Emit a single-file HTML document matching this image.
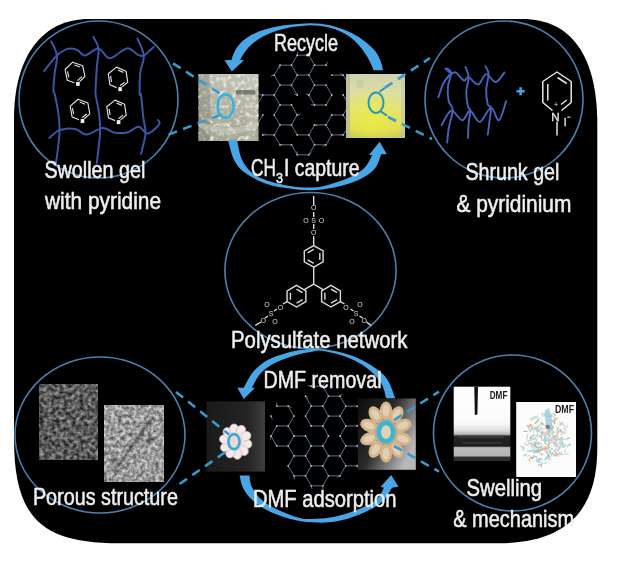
<!DOCTYPE html>
<html><head><meta charset="utf-8">
<style>
html,body{margin:0;padding:0;background:#fff;width:618px;height:565px;overflow:hidden}
svg{display:block;will-change:transform;filter:blur(0.4px)}
text{font-family:"Liberation Sans",sans-serif}
.t{fill:#eeeeee;stroke:#eeeeee;stroke-width:0.55}
</style></head><body>
<svg width="618" height="565" viewBox="0 0 618 565">
<defs>
 <linearGradient id="gBeaker" x1="0" y1="0" x2="0" y2="1">
  <stop offset="0" stop-color="#c0c2b6"/><stop offset="0.5" stop-color="#b2b2a4"/><stop offset="1" stop-color="#a6a696"/>
 </linearGradient>
 <linearGradient id="gYellow" x1="0" y1="0" x2="0" y2="1">
  <stop offset="0" stop-color="#cfd2b0"/><stop offset="0.3" stop-color="#dcdea0"/><stop offset="0.55" stop-color="#e2e478"/><stop offset="0.85" stop-color="#e0e050"/><stop offset="1" stop-color="#c4c470"/>
 </linearGradient>
 <radialGradient id="gYel2" cx="0.45" cy="0.7" r="0.5">
  <stop offset="0" stop-color="#ecec40" stop-opacity="0.8"/><stop offset="1" stop-color="#ecec40" stop-opacity="0"/>
 </radialGradient>
 <linearGradient id="gFlowR" x1="0" y1="0" x2="1" y2="0.6">
  <stop offset="0" stop-color="#0c0c0c"/><stop offset="0.5" stop-color="#2a2a2a"/><stop offset="0.8" stop-color="#808080"/><stop offset="1" stop-color="#b8b8b8"/>
 </linearGradient>
 <linearGradient id="gFlowL" x1="0" y1="0" x2="1" y2="0">
  <stop offset="0" stop-color="#1a1a1a"/><stop offset="0.7" stop-color="#242424"/><stop offset="1" stop-color="#3e3e3e"/>
 </linearGradient>
 <linearGradient id="gCA" x1="0" y1="0" x2="0" y2="1">
  <stop offset="0" stop-color="#ffffff"/><stop offset="0.48" stop-color="#fafafa"/><stop offset="0.58" stop-color="#e2e2e2"/>
  <stop offset="0.64" stop-color="#b8b8b8"/><stop offset="0.665" stop-color="#262626"/><stop offset="0.8" stop-color="#1c1c1c"/>
  <stop offset="0.82" stop-color="#bcbcbc"/><stop offset="0.93" stop-color="#b4b4b4"/><stop offset="0.95" stop-color="#303030"/><stop offset="1" stop-color="#2c2c2c"/>
 </linearGradient>
 <filter id="sem1" color-interpolation-filters="sRGB" filterUnits="userSpaceOnUse" x="39.7" y="384.5" width="57.5" height="75.5">
  <feTurbulence type="fractalNoise" baseFrequency="0.25" numOctaves="4" seed="11"/>
  <feColorMatrix type="matrix" values="0.85 0 0 0 -0.07  0.85 0 0 0 -0.07  0.85 0 0 0 -0.07  0 0 0 0 1"/><feGaussianBlur stdDeviation="0.45"/>
 </filter>
 <filter id="sem2" color-interpolation-filters="sRGB" filterUnits="userSpaceOnUse" x="104.3" y="405.5" width="59.2" height="76.2">
  <feTurbulence type="fractalNoise" baseFrequency="0.27" numOctaves="4" seed="5"/>
  <feColorMatrix type="matrix" values="0.85 0 0 0 0.18  0.85 0 0 0 0.18  0.85 0 0 0 0.18  0 0 0 0 1"/><feGaussianBlur stdDeviation="0.45"/>
 </filter>
 <filter id="soft" x="-20%" y="-20%" width="140%" height="140%"><feGaussianBlur stdDeviation="0.8"/></filter>
 <filter id="beak" color-interpolation-filters="sRGB" filterUnits="userSpaceOnUse" x="198.5" y="74" width="60" height="67">
  <feTurbulence type="fractalNoise" baseFrequency="0.22" numOctaves="2" seed="8"/>
  <feColorMatrix type="matrix" values="0 0 0 0 1  0 0 0 0 1  0 0 0 0 0.95  3 0 0 0 -1.45"/>
 </filter>
 <filter id="noise1" x="0" y="0" width="1" height="1">
  <feTurbulence type="fractalNoise" baseFrequency="0.35" numOctaves="2" seed="4" result="n"/>
  <feColorMatrix type="matrix" values="0 0 0 0 0  0 0 0 0 0  0 0 0 0 0  1.6 0 0 0 -0.3" in="n" result="a"/>
  <feComposite operator="in" in="SourceGraphic" in2="a"/>
 </filter>
</defs>
<path d="M14,119.0 C14,56.5 42.1,19 89.0,19 L522.3,19 C571.0,19 597.3,55.8 597.3,124.0 L597.3,448.3 C597.3,512.4 564.8,543.3 497.3,543.3 L119.0,543.3 C40.2,543.3 14,517.0 14,438.3 Z" fill="#000"/>

<g fill="none" stroke="#4a80ac" stroke-width="1.6">
 <ellipse cx="98.5" cy="99.5" rx="79.5" ry="78.5"/>
 <ellipse cx="504" cy="99.5" rx="79" ry="78.5"/>
 <ellipse cx="310.5" cy="270.5" rx="85.6" ry="78"/>
 <ellipse cx="100" cy="435" rx="85" ry="78"/>
 <ellipse cx="512.5" cy="433" rx="79" ry="78"/>
</g>
<g fill="none" stroke="#3955a5" stroke-width="2.0" stroke-linecap="round" stroke-linejoin="round">
<path d="M44.2,71.0 C46.3,68.4 53.1,59.1 56.9,55.5 C60.7,51.9 63.5,50.1 66.8,49.1 C70.1,48.1 73.6,48.7 76.7,49.8 C79.8,50.9 81.6,55.7 85.2,55.5 C88.8,55.3 94.4,47.9 98.5,48.4 C102.6,48.9 105.1,58.3 109.8,58.3 C114.5,58.3 122.1,49.0 126.8,48.4 C131.5,47.8 135.3,53.6 138.1,54.8 C140.9,56.0 141.2,56.8 143.8,55.5 C146.4,54.2 152.0,48.4 153.7,47.0"/>
<path d="M49.3,138.0 C51.0,136.7 55.2,131.6 59.5,130.1 C63.8,128.6 70.8,128.2 75.3,129.0 C79.8,129.8 82.1,134.8 86.6,134.6 C91.1,134.4 98.0,128.3 102.5,127.9 C107.0,127.5 109.6,131.7 113.8,132.4 C118.0,133.2 123.2,133.3 127.4,132.4 C131.6,131.5 135.3,126.5 138.7,126.7 C142.1,126.9 144.4,133.9 147.8,133.5 C151.2,133.1 157.4,126.8 159.1,124.5 C160.8,122.2 158.2,120.7 158.0,119.9"/>
<path d="M51.2,41.3 C52.2,43.7 56.3,50.3 56.9,55.5 C57.5,60.7 55.4,66.8 54.8,72.5 C54.2,78.2 53.4,85.8 53.4,89.5 C53.4,93.2 54.1,91.1 54.9,95.0 C55.7,98.9 57.5,106.6 58.3,113.0 C59.1,119.4 59.9,125.2 59.5,133.5 C59.1,141.8 56.6,158.1 56.0,163.0"/>
<path d="M93.5,37.0 C94.3,38.9 97.9,43.7 98.5,48.4 C99.1,53.1 97.5,59.0 97.0,65.4 C96.5,71.8 95.9,81.7 95.7,86.6 C95.5,91.5 95.2,90.6 95.7,95.0 C96.2,99.4 98.3,106.6 99.0,113.0 C99.7,119.4 100.4,125.2 100.0,133.5 C99.6,141.8 97.3,158.1 96.8,163.0"/>
<path d="M137.4,38.5 C138.5,41.3 143.3,49.8 143.8,55.5 C144.3,61.2 141.0,66.1 140.3,72.5 C139.6,78.9 139.5,90.0 139.6,93.7 C139.7,97.5 140.4,91.0 141.0,95.0 C141.6,99.0 142.6,111.3 143.3,117.7 C144.1,124.1 145.9,127.5 145.5,133.5 C145.1,139.5 141.8,150.5 141.0,153.9"/>
</g>
<g fill="none" stroke="#e2e2e2" stroke-width="1.15" stroke-linejoin="round">
<polyline points="79.6,81.6 84.9,76.5 82.7,65.7 72.7,62.2 65.1,69.5 67.3,80.3 74.3,82.7"/>
<path d="M74.4,65.0L80.0,67.0M68.8,77.4L67.5,71.3M81.9,76.6L77.5,80.7"/>
<polyline points="122.0,86.9 127.7,82.2 126.1,71.3 116.5,67.1 108.3,73.8 109.9,84.7 116.6,87.6"/>
<path d="M117.9,70.0L123.4,72.4M111.5,82.0L110.6,75.8M124.6,82.1L120.0,85.8"/>
<polyline points="84.3,118.7 89.8,113.9 87.9,103.0 78.1,99.2 70.2,106.1 72.1,117.0 79.0,119.7"/>
<path d="M79.7,102.0L85.2,104.2M73.6,114.2L72.5,108.1M86.7,113.8L82.3,117.8"/>
<polyline points="120.5,119.9 126.2,115.2 124.6,104.3 115.0,100.1 106.8,106.8 108.4,117.7 115.1,120.6"/>
<path d="M116.4,103.0L121.9,105.4M110.0,115.0L109.1,108.8M123.1,115.1L118.5,118.8"/>
</g>
<g fill="#eeeeee">
<rect x="76.1" y="81.9" width="3.6" height="4" />
<rect x="118.3" y="87.1" width="3.6" height="4" />
<rect x="80.7" y="119.0" width="3.6" height="4" />
<rect x="116.8" y="120.1" width="3.6" height="4" />
</g>
<g fill="none" stroke="#4564bb" stroke-width="1.9" stroke-linecap="round" stroke-linejoin="round">
<path d="M445.5,68.5 C446.4,69.3 449.4,72.6 451.1,73.3 C452.8,74.0 453.8,71.3 455.9,72.5 C458.0,73.7 461.8,79.7 463.9,80.5 C466.0,81.3 466.3,76.6 468.7,77.3 C471.1,78.0 475.3,85.0 478.2,84.5 C481.1,84.0 483.3,74.5 486.2,74.1 C489.1,73.7 492.6,82.4 495.7,82.1 C498.8,81.8 503.0,74.1 504.5,72.5"/>
<path d="M441.6,125.1 C442.7,123.2 446.0,116.4 447.9,114.0 C449.8,111.6 450.3,109.8 452.7,110.8 C455.1,111.8 459.4,120.3 462.3,120.3 C465.2,120.3 467.3,110.5 470.2,110.8 C473.1,111.1 476.3,122.4 479.8,121.9 C483.3,121.4 487.8,107.9 491.0,107.6 C494.2,107.3 496.4,121.4 498.9,120.3 C501.4,119.2 504.9,104.4 506.1,101.2"/>
<path d="M447.1,68.5 C447.8,69.3 451.0,70.2 451.1,73.3 C451.2,76.4 448.3,82.2 447.9,86.9 C447.5,91.6 447.9,97.4 448.7,101.2 C449.5,105.0 452.7,105.5 452.7,110.0 C452.7,114.5 449.6,122.9 448.7,128.3 C447.8,133.7 447.4,140.2 447.1,142.6"/>
<path d="M438.4,97.2 C439.2,95.0 441.3,87.4 443.2,83.7 C445.1,80.0 448.4,76.4 449.5,74.9"/>
<path d="M465.5,67.0 C466.0,68.7 468.6,73.2 468.7,77.3 C468.8,81.4 466.4,86.9 466.3,91.7 C466.2,96.5 467.2,102.8 467.9,106.0 C468.5,109.2 470.1,107.9 470.2,110.8 C470.3,113.7 469.1,119.0 468.7,123.5 C468.3,128.0 468.0,135.5 467.9,137.9"/>
<path d="M485.4,66.2 C485.9,67.5 488.5,70.1 488.6,74.1 C488.7,78.1 486.3,85.0 486.2,90.1 C486.1,95.1 487.0,101.5 487.8,104.4 C488.6,107.3 490.7,104.7 491.0,107.6 C491.3,110.5 489.9,117.4 489.4,121.9 C488.9,126.4 488.1,132.6 487.8,134.7"/>
</g>
<path d="M516.6,91.2 h8 M520.6,87.2 v8" stroke="#3ea4e4" stroke-width="2.6"/>
<g fill="none" stroke="#e6e6e6" stroke-width="1.5" stroke-linejoin="round">
<polyline points="552.5,110.5 542.8,102.5 542.8,81.5 557,72 571.2,81.5 571.2,102.5 561.5,110.5"/>
<path d="M547.8,84 V100.5 M557.5,77.5 L566.8,83.5 M566.8,100 L561,104.5 M557,121.5 V135.5"/>
</g>
<text x="551.3" y="120.5" font-size="11.5" fill="#e6e6e6" stroke="#e6e6e6" stroke-width="0.3">N</text>
<text x="554" y="106.5" font-size="7" fill="#e6e6e6">+</text>
<text x="563.8" y="126" font-size="10.5" fill="#e6e6e6" stroke="#e6e6e6" stroke-width="0.3">I</text>
<path d="M567.3,117.2 h3.2" stroke="#e6e6e6" stroke-width="1.1"/>
<path d="M274.2,115.0L280.0,105.0M257.0,105.0L262.8,95.0M262.8,95.0L274.2,95.0M274.2,95.0L280.0,105.0M274.2,134.9L280.0,124.9M262.8,134.9L274.2,134.9M257.0,124.9L262.8,115.0M274.2,115.0L280.0,124.9M291.5,85.1L297.2,75.1M280.0,85.1L291.5,85.1M274.2,75.1L280.0,85.1M274.2,75.1L280.0,65.2M280.0,65.2L291.5,65.2M291.5,65.2L297.2,75.1M280.0,105.0L291.5,105.0M274.2,95.0L280.0,85.1M291.5,85.1L297.2,95.0M291.5,124.9L297.2,115.0M280.0,124.9L291.5,124.9M291.5,105.0L297.2,115.0M280.0,144.8L291.5,144.8M274.2,134.9L280.0,144.8M291.5,124.9L297.2,134.9M308.8,75.1L314.5,65.2M297.2,75.1L308.8,75.1M291.5,65.2L297.2,55.2M297.2,55.2L308.8,55.2M308.8,55.2L314.5,65.2M308.8,154.8L314.5,144.8M297.2,154.8L308.8,154.8M291.5,144.8L297.2,154.8M297.2,134.9L308.8,134.9M308.8,134.9L314.5,144.8M314.5,85.1L326.0,85.1M308.8,75.1L314.5,85.1M314.5,65.2L326.0,65.2M326.0,105.0L331.8,95.0M314.5,105.0L326.0,105.0M308.8,95.0L314.5,105.0M308.8,95.0L314.5,85.1M326.0,85.1L331.8,95.0M326.0,144.8L331.8,134.9M314.5,144.8L326.0,144.8M308.8,134.9L314.5,124.9M314.5,124.9L326.0,124.9M326.0,124.9L331.8,134.9M331.8,75.1L343.2,75.1M343.2,75.1L349.0,85.1M343.2,115.0L349.0,105.0M331.8,115.0L343.2,115.0M343.2,95.0L349.0,105.0M343.2,134.9L349.0,124.9M331.8,134.9L343.2,134.9M326.0,124.9L331.8,115.0M343.2,115.0L349.0,124.9M257.0,105.0l0.4,3.5M262.8,95.0l-3.5,-0.3M262.8,134.9l3.3,-1.0M257.0,124.9l-3.1,-1.6M274.2,75.1l-3.4,0.9M280.0,65.2l-0.4,3.5M297.2,95.0l-3.3,-1.0M297.2,115.0l3.4,-0.9M280.0,144.8l3.5,0.1M297.2,55.2l0.7,-3.4M308.8,55.2l1.5,-3.2M308.8,154.8l2.6,-2.3M297.2,154.8l-0.2,-3.5M326.0,65.2l1.3,-3.3M314.5,105.0l-3.5,-0.4M308.8,95.0l-3.2,-1.3M326.0,144.8l-3.1,1.6M314.5,124.9l3.3,1.2M349.0,85.1l2.4,-2.6M343.2,75.1l-3.2,-1.5M349.0,105.0l1.1,3.3M343.2,134.9l-3.5,-0.1M349.0,124.9l-3.5,0.3" stroke="#62748a" stroke-width="0.95" fill="none"/>
<g fill="#b4c2d0"><circle cx="274.2" cy="115.0" r="0.9"/><circle cx="280.0" cy="105.0" r="0.9"/><circle cx="262.8" cy="115.0" r="0.9"/><circle cx="257.0" cy="105.0" r="0.9"/><circle cx="262.8" cy="95.0" r="0.9"/><circle cx="274.2" cy="95.0" r="0.9"/><circle cx="274.2" cy="134.9" r="0.9"/><circle cx="280.0" cy="124.9" r="0.9"/><circle cx="262.8" cy="134.9" r="0.9"/><circle cx="257.0" cy="124.9" r="0.9"/><circle cx="291.5" cy="85.1" r="0.9"/><circle cx="297.2" cy="75.1" r="0.9"/><circle cx="280.0" cy="85.1" r="0.9"/><circle cx="274.2" cy="75.1" r="0.9"/><circle cx="280.0" cy="65.2" r="0.9"/><circle cx="291.5" cy="65.2" r="0.9"/><circle cx="291.5" cy="105.0" r="0.9"/><circle cx="297.2" cy="95.0" r="0.9"/><circle cx="291.5" cy="124.9" r="0.9"/><circle cx="297.2" cy="115.0" r="0.9"/><circle cx="291.5" cy="144.8" r="0.9"/><circle cx="297.2" cy="134.9" r="0.9"/><circle cx="280.0" cy="144.8" r="0.9"/><circle cx="308.8" cy="75.1" r="0.9"/><circle cx="314.5" cy="65.2" r="0.9"/><circle cx="297.2" cy="55.2" r="0.9"/><circle cx="308.8" cy="55.2" r="0.9"/><circle cx="308.8" cy="154.8" r="0.9"/><circle cx="314.5" cy="144.8" r="0.9"/><circle cx="297.2" cy="154.8" r="0.9"/><circle cx="308.8" cy="134.9" r="0.9"/><circle cx="326.0" cy="85.1" r="0.9"/><circle cx="331.8" cy="75.1" r="0.9"/><circle cx="314.5" cy="85.1" r="0.9"/><circle cx="326.0" cy="65.2" r="0.9"/><circle cx="326.0" cy="105.0" r="0.9"/><circle cx="331.8" cy="95.0" r="0.9"/><circle cx="314.5" cy="105.0" r="0.9"/><circle cx="308.8" cy="95.0" r="0.9"/><circle cx="326.0" cy="144.8" r="0.9"/><circle cx="331.8" cy="134.9" r="0.9"/><circle cx="314.5" cy="124.9" r="0.9"/><circle cx="326.0" cy="124.9" r="0.9"/><circle cx="343.2" cy="95.0" r="0.9"/><circle cx="349.0" cy="85.1" r="0.9"/><circle cx="343.2" cy="75.1" r="0.9"/><circle cx="343.2" cy="115.0" r="0.9"/><circle cx="349.0" cy="105.0" r="0.9"/><circle cx="331.8" cy="115.0" r="0.9"/><circle cx="343.2" cy="134.9" r="0.9"/><circle cx="349.0" cy="124.9" r="0.9"/></g>
<path d="M288.2,426.0L294.0,416.1M276.8,426.0L288.2,426.0M276.8,406.1L288.2,406.1M288.2,406.1L294.0,416.1M288.2,446.0L294.0,436.0M276.8,446.0L288.2,446.0M271.0,436.0L276.8,446.0M271.0,436.0L276.8,426.0M288.2,426.0L294.0,436.0M294.0,436.0L305.5,436.0M305.5,416.1L311.2,426.0M305.5,455.9L311.2,446.0M294.0,455.9L305.5,455.9M288.2,446.0L294.0,455.9M305.5,436.0L311.2,446.0M305.5,475.8L311.2,465.9M294.0,475.8L305.5,475.8M288.2,465.9L294.0,475.8M288.2,465.9L294.0,455.9M305.5,455.9L311.2,465.9M322.8,406.1L328.5,396.2M311.2,406.1L322.8,406.1M305.5,396.2L311.2,406.1M311.2,386.2L322.8,386.2M322.8,386.2L328.5,396.2M322.8,426.0L328.5,416.1M311.2,426.0L322.8,426.0M305.5,416.1L311.2,406.1M322.8,406.1L328.5,416.1M322.8,465.9L328.5,455.9M311.2,465.9L322.8,465.9M311.2,446.0L322.8,446.0M322.8,446.0L328.5,455.9M322.8,485.8L328.5,475.8M311.2,485.8L322.8,485.8M305.5,475.8L311.2,485.8M322.8,465.9L328.5,475.8M340.0,416.1L345.8,406.1M328.5,416.1L340.0,416.1M328.5,396.2L340.0,396.2M340.0,396.2L345.8,406.1M340.0,436.0L345.8,426.0M322.8,426.0L328.5,436.0M340.0,416.1L345.8,426.0M340.0,455.9L345.8,446.0M328.5,455.9L340.0,455.9M322.8,446.0L328.5,436.0M340.0,436.0L345.8,446.0M340.0,475.8L345.8,465.9M328.5,475.8L340.0,475.8M340.0,455.9L345.8,465.9M357.2,426.0L363.0,416.1M345.8,426.0L357.2,426.0M345.8,406.1L357.2,406.1M357.2,406.1L363.0,416.1M357.2,446.0L363.0,436.0M345.8,446.0L357.2,446.0M357.2,465.9L363.0,455.9M345.8,465.9L357.2,465.9M357.2,446.0L363.0,455.9M271.0,416.1l1.3,3.3M276.8,406.1l-0.1,-3.5M288.2,406.1l3.3,1.3M276.8,446.0l-2.0,-2.9M271.0,436.0l-0.5,3.5M294.0,475.8l0.5,3.5M288.2,465.9l2.5,-2.5M305.5,396.2l2.7,2.2M311.2,386.2l-3.5,-0.5M322.8,386.2l2.1,-2.8M322.8,485.8l0.1,3.5M311.2,485.8l0.9,3.4M340.0,396.2l2.6,-2.4M340.0,475.8l-3.1,1.6M363.0,416.1l-0.7,-3.4M357.2,406.1l3.4,0.7M363.0,436.0l-2.3,2.7M357.2,465.9l1.7,3.1M363.0,455.9l-1.6,-3.1" stroke="#62748a" stroke-width="0.95" fill="none"/>
<g fill="#b4c2d0"><circle cx="288.2" cy="426.0" r="0.9"/><circle cx="294.0" cy="416.1" r="0.9"/><circle cx="276.8" cy="426.0" r="0.9"/><circle cx="271.0" cy="416.1" r="0.9"/><circle cx="276.8" cy="406.1" r="0.9"/><circle cx="288.2" cy="406.1" r="0.9"/><circle cx="288.2" cy="446.0" r="0.9"/><circle cx="294.0" cy="436.0" r="0.9"/><circle cx="276.8" cy="446.0" r="0.9"/><circle cx="271.0" cy="436.0" r="0.9"/><circle cx="305.5" cy="436.0" r="0.9"/><circle cx="311.2" cy="426.0" r="0.9"/><circle cx="305.5" cy="416.1" r="0.9"/><circle cx="305.5" cy="455.9" r="0.9"/><circle cx="311.2" cy="446.0" r="0.9"/><circle cx="294.0" cy="455.9" r="0.9"/><circle cx="305.5" cy="475.8" r="0.9"/><circle cx="311.2" cy="465.9" r="0.9"/><circle cx="294.0" cy="475.8" r="0.9"/><circle cx="288.2" cy="465.9" r="0.9"/><circle cx="322.8" cy="406.1" r="0.9"/><circle cx="328.5" cy="396.2" r="0.9"/><circle cx="311.2" cy="406.1" r="0.9"/><circle cx="305.5" cy="396.2" r="0.9"/><circle cx="311.2" cy="386.2" r="0.9"/><circle cx="322.8" cy="386.2" r="0.9"/><circle cx="322.8" cy="426.0" r="0.9"/><circle cx="328.5" cy="416.1" r="0.9"/><circle cx="322.8" cy="465.9" r="0.9"/><circle cx="328.5" cy="455.9" r="0.9"/><circle cx="322.8" cy="446.0" r="0.9"/><circle cx="322.8" cy="485.8" r="0.9"/><circle cx="328.5" cy="475.8" r="0.9"/><circle cx="311.2" cy="485.8" r="0.9"/><circle cx="340.0" cy="416.1" r="0.9"/><circle cx="345.8" cy="406.1" r="0.9"/><circle cx="340.0" cy="396.2" r="0.9"/><circle cx="340.0" cy="436.0" r="0.9"/><circle cx="345.8" cy="426.0" r="0.9"/><circle cx="328.5" cy="436.0" r="0.9"/><circle cx="340.0" cy="455.9" r="0.9"/><circle cx="345.8" cy="446.0" r="0.9"/><circle cx="340.0" cy="475.8" r="0.9"/><circle cx="345.8" cy="465.9" r="0.9"/><circle cx="357.2" cy="426.0" r="0.9"/><circle cx="363.0" cy="416.1" r="0.9"/><circle cx="357.2" cy="406.1" r="0.9"/><circle cx="357.2" cy="446.0" r="0.9"/><circle cx="363.0" cy="436.0" r="0.9"/><circle cx="357.2" cy="465.9" r="0.9"/><circle cx="363.0" cy="455.9" r="0.9"/></g>
<rect x="198.5" y="74" width="60" height="67" fill="url(#gBeaker)"/>
<rect x="198.5" y="74" width="60" height="67" filter="url(#beak)" opacity="0.8"/>
<rect x="198.5" y="74" width="12" height="67" fill="#4a4a42" opacity="0.22"/>
<rect x="247" y="74" width="9" height="67" fill="#d8d8d0" opacity="0.18"/>
<path d="M199,121 C215,130 240,130 258,121 L258,127 C240,136 215,136 199,127 Z" fill="#d4d4ca" opacity="0.45"/>
<rect x="236" y="90" width="19.5" height="4.5" rx="1.5" fill="#3a3a34" opacity="0.5"/>
<rect x="346" y="74" width="59" height="64" fill="url(#gYellow)"/>
<rect x="346" y="74" width="59" height="64" fill="url(#gYel2)"/>
<rect x="346" y="74" width="4" height="64" fill="#b4b49c" opacity="0.7"/>
<rect x="401" y="74" width="4" height="64" fill="#c0c0a8" opacity="0.5"/>
<ellipse cx="360" cy="84" rx="4" ry="5" fill="#a8a890" opacity="0.22"/>
<rect x="206.4" y="401.4" width="58.6" height="70.2" fill="url(#gFlowL)"/>
<rect x="357.8" y="398.5" width="58" height="71.3" fill="url(#gFlowR)"/>
<rect x="39.7" y="384.5" width="57.5" height="75.5" filter="url(#sem1)"/>
<rect x="104.3" y="405.5" width="59.2" height="76.2" filter="url(#sem2)"/>
<path d="M114,472 C125,455 138,438 152,418" stroke="#202020" stroke-width="2.6" opacity="0.55" fill="none" filter="url(#soft)"/>
<path d="M145,441 l8,-2 M112,457 l4,4" stroke="#101010" stroke-width="3" opacity="0.6" filter="url(#soft)"/>
<rect x="453.7" y="386.7" width="56.6" height="74.3" fill="url(#gCA)"/>
<path d="M458,437 h46 M462,443 h40" stroke="#707070" stroke-width="0.8" opacity="0.6"/>
<path d="M474.3,386.7 h3.7 l-0.6,28 h-2.6 z" fill="#111"/>
<text x="489.7" y="399.3" font-size="10" font-weight="bold" fill="#1a1a1a" textLength="17.7" lengthAdjust="spacingAndGlyphs">DMF</text>
<rect x="516.2" y="402" width="59.8" height="75" fill="#fbfbfb"/>
<g stroke-width="1.25" stroke-linecap="round">
<line x1="541.4" y1="448.2" x2="540.1" y2="446.4" stroke="#a2d4de"/>
<line x1="541.8" y1="444.1" x2="539.7" y2="444.0" stroke="#bde0e6"/>
<line x1="536.0" y1="445.8" x2="533.9" y2="445.2" stroke="#a2d4de"/>
<line x1="563.7" y1="432.7" x2="561.8" y2="431.6" stroke="#bde0e6"/>
<line x1="554.4" y1="443.5" x2="552.2" y2="442.7" stroke="#bde0e6"/>
<line x1="549.3" y1="446.3" x2="547.9" y2="450.1" stroke="#c4e4ea"/>
<line x1="559.5" y1="452.6" x2="560.4" y2="454.6" stroke="#a2d4de"/>
<line x1="527.1" y1="431.3" x2="523.8" y2="431.3" stroke="#98cad6"/>
<line x1="538.2" y1="449.2" x2="539.9" y2="452.8" stroke="#a2d4de"/>
<line x1="529.7" y1="431.2" x2="532.4" y2="428.5" stroke="#d4a888"/>
<line x1="540.8" y1="436.1" x2="538.4" y2="435.9" stroke="#98cad6"/>
<line x1="554.4" y1="455.1" x2="557.9" y2="456.0" stroke="#98cad6"/>
<line x1="538.0" y1="452.5" x2="534.0" y2="452.6" stroke="#a2d4de"/>
<line x1="524.6" y1="443.8" x2="528.1" y2="445.2" stroke="#e8c8b0"/>
<line x1="542.0" y1="455.4" x2="541.0" y2="453.6" stroke="#e8c8b0"/>
<line x1="533.2" y1="457.3" x2="530.6" y2="457.4" stroke="#d4a888"/>
<line x1="552.3" y1="448.8" x2="549.0" y2="451.4" stroke="#a2d4de"/>
<line x1="552.1" y1="454.0" x2="551.7" y2="456.3" stroke="#bde0e6"/>
<line x1="552.4" y1="430.2" x2="549.9" y2="431.7" stroke="#bde0e6"/>
<line x1="552.7" y1="437.6" x2="553.9" y2="439.9" stroke="#dcb498"/>
<line x1="549.7" y1="451.9" x2="551.7" y2="454.5" stroke="#98cad6"/>
<line x1="565.5" y1="432.9" x2="562.0" y2="432.5" stroke="#b4dee6"/>
<line x1="565.2" y1="432.8" x2="562.4" y2="431.7" stroke="#bde0e6"/>
<line x1="560.8" y1="453.7" x2="562.8" y2="454.6" stroke="#dcb498"/>
<line x1="538.7" y1="442.8" x2="536.9" y2="441.5" stroke="#c4e4ea"/>
<line x1="541.0" y1="436.0" x2="541.7" y2="438.8" stroke="#d4a888"/>
<line x1="563.3" y1="434.0" x2="561.0" y2="434.4" stroke="#e8c8b0"/>
<line x1="560.7" y1="439.2" x2="558.5" y2="439.5" stroke="#a2d4de"/>
<line x1="545.0" y1="413.7" x2="541.3" y2="414.2" stroke="#b4dee6"/>
<line x1="531.2" y1="458.7" x2="534.5" y2="456.7" stroke="#d4a888"/>
<line x1="541.4" y1="428.3" x2="539.8" y2="430.1" stroke="#dcb498"/>
<line x1="540.2" y1="450.0" x2="541.9" y2="445.8" stroke="#dcb498"/>
<line x1="544.4" y1="428.5" x2="541.5" y2="428.2" stroke="#b4dee6"/>
<line x1="569.7" y1="438.2" x2="567.2" y2="438.6" stroke="#98cad6"/>
<line x1="538.5" y1="448.5" x2="538.8" y2="451.0" stroke="#dcb498"/>
<line x1="544.3" y1="439.4" x2="546.7" y2="437.8" stroke="#a2d4de"/>
<line x1="548.6" y1="433.0" x2="545.7" y2="435.5" stroke="#dcb498"/>
<line x1="536.3" y1="441.4" x2="537.0" y2="438.6" stroke="#bde0e6"/>
<line x1="522.5" y1="446.1" x2="524.6" y2="447.3" stroke="#c4e4ea"/>
<line x1="563.4" y1="443.7" x2="559.9" y2="444.5" stroke="#e8c8b0"/>
<line x1="537.8" y1="427.6" x2="535.6" y2="426.9" stroke="#b4dee6"/>
<line x1="551.9" y1="415.5" x2="555.0" y2="417.8" stroke="#c4e4ea"/>
<line x1="549.4" y1="430.2" x2="549.4" y2="433.0" stroke="#dcb498"/>
<line x1="546.1" y1="425.8" x2="542.1" y2="424.7" stroke="#b4dee6"/>
<line x1="556.0" y1="432.0" x2="552.7" y2="432.9" stroke="#bde0e6"/>
<line x1="550.5" y1="446.7" x2="546.3" y2="446.5" stroke="#c4e4ea"/>
<line x1="549.6" y1="447.1" x2="547.9" y2="445.6" stroke="#b4dee6"/>
<line x1="537.2" y1="457.2" x2="533.5" y2="455.8" stroke="#a2d4de"/>
<line x1="548.6" y1="436.3" x2="549.3" y2="438.3" stroke="#a2d4de"/>
<line x1="527.0" y1="439.0" x2="527.3" y2="434.7" stroke="#e8c8b0"/>
<line x1="537.7" y1="433.4" x2="537.1" y2="436.6" stroke="#e8c8b0"/>
<line x1="534.5" y1="439.4" x2="530.3" y2="438.8" stroke="#d4a888"/>
<line x1="549.5" y1="456.7" x2="546.9" y2="458.2" stroke="#98cad6"/>
<line x1="554.3" y1="445.2" x2="557.6" y2="446.9" stroke="#a2d4de"/>
<line x1="551.5" y1="434.4" x2="550.7" y2="430.8" stroke="#c4e4ea"/>
<line x1="544.9" y1="448.7" x2="541.1" y2="449.5" stroke="#a2d4de"/>
<line x1="532.0" y1="451.0" x2="536.1" y2="450.8" stroke="#c4e4ea"/>
<line x1="533.0" y1="449.5" x2="531.6" y2="451.3" stroke="#98cad6"/>
<line x1="562.7" y1="442.5" x2="560.8" y2="443.2" stroke="#98cad6"/>
<line x1="533.4" y1="438.5" x2="535.6" y2="438.0" stroke="#dcb498"/>
<line x1="551.5" y1="438.7" x2="551.3" y2="440.8" stroke="#c4e4ea"/>
<line x1="544.1" y1="448.4" x2="540.3" y2="450.4" stroke="#d4a888"/>
<line x1="530.6" y1="451.1" x2="527.4" y2="450.8" stroke="#98cad6"/>
<line x1="549.1" y1="442.9" x2="547.9" y2="440.1" stroke="#a2d4de"/>
<line x1="544.7" y1="442.9" x2="546.9" y2="444.3" stroke="#dcb498"/>
<line x1="532.8" y1="444.2" x2="528.7" y2="442.8" stroke="#d4a888"/>
<line x1="542.0" y1="436.7" x2="540.9" y2="432.5" stroke="#c4e4ea"/>
<line x1="544.3" y1="450.1" x2="547.6" y2="448.6" stroke="#dcb498"/>
<line x1="540.9" y1="458.3" x2="542.2" y2="460.8" stroke="#b4dee6"/>
<line x1="548.8" y1="439.8" x2="552.1" y2="440.2" stroke="#dcb498"/>
<line x1="534.5" y1="438.9" x2="531.1" y2="440.1" stroke="#bde0e6"/>
<line x1="535.3" y1="423.3" x2="538.6" y2="420.4" stroke="#d4a888"/>
<line x1="539.7" y1="418.1" x2="537.3" y2="419.7" stroke="#b4dee6"/>
<line x1="546.2" y1="437.7" x2="543.3" y2="434.7" stroke="#bde0e6"/>
<line x1="548.0" y1="445.7" x2="550.3" y2="442.2" stroke="#d4a888"/>
<line x1="527.5" y1="425.7" x2="529.9" y2="426.4" stroke="#d4a888"/>
<line x1="534.7" y1="444.2" x2="539.0" y2="443.1" stroke="#98cad6"/>
<line x1="540.2" y1="454.0" x2="543.1" y2="454.0" stroke="#e8c8b0"/>
<line x1="541.3" y1="463.0" x2="541.4" y2="466.9" stroke="#a2d4de"/>
<line x1="544.5" y1="446.9" x2="542.8" y2="448.2" stroke="#b4dee6"/>
<line x1="538.9" y1="461.5" x2="542.7" y2="463.7" stroke="#c4e4ea"/>
<line x1="532.8" y1="418.8" x2="535.0" y2="416.7" stroke="#98cad6"/>
<line x1="542.0" y1="421.6" x2="541.3" y2="425.1" stroke="#c4e4ea"/>
<line x1="560.3" y1="425.9" x2="559.9" y2="421.9" stroke="#c4e4ea"/>
<line x1="564.8" y1="425.6" x2="561.1" y2="424.0" stroke="#b4dee6"/>
<line x1="553.6" y1="421.2" x2="556.5" y2="418.9" stroke="#dcb498"/>
<line x1="548.5" y1="442.4" x2="545.7" y2="439.1" stroke="#bde0e6"/>
<line x1="554.2" y1="422.4" x2="551.7" y2="419.9" stroke="#dcb498"/>
<line x1="543.9" y1="440.1" x2="545.0" y2="436.4" stroke="#a2d4de"/>
<line x1="542.2" y1="435.0" x2="542.0" y2="432.4" stroke="#a2d4de"/>
<line x1="550.8" y1="430.4" x2="550.9" y2="427.8" stroke="#e8c8b0"/>
<line x1="531.3" y1="440.6" x2="527.6" y2="441.1" stroke="#b4dee6"/>
<line x1="530.1" y1="424.6" x2="532.2" y2="425.7" stroke="#d4a888"/>
<line x1="532.5" y1="420.0" x2="530.8" y2="418.4" stroke="#e8c8b0"/>
<line x1="555.3" y1="444.7" x2="553.5" y2="441.4" stroke="#e8c8b0"/>
<line x1="540.7" y1="458.7" x2="537.6" y2="459.4" stroke="#a2d4de"/>
<line x1="562.7" y1="439.2" x2="561.8" y2="441.2" stroke="#e8c8b0"/>
<line x1="560.4" y1="441.9" x2="562.3" y2="437.9" stroke="#e8c8b0"/>
<line x1="558.8" y1="439.4" x2="562.6" y2="437.2" stroke="#a2d4de"/>
<line x1="538.3" y1="435.7" x2="533.9" y2="435.0" stroke="#c4e4ea"/>
<line x1="529.2" y1="426.3" x2="528.8" y2="428.6" stroke="#98cad6"/>
<line x1="541.9" y1="440.3" x2="545.1" y2="440.4" stroke="#e8c8b0"/>
<line x1="526.3" y1="454.4" x2="523.8" y2="455.9" stroke="#a2d4de"/>
<line x1="545.4" y1="439.2" x2="545.5" y2="435.1" stroke="#a2d4de"/>
<line x1="553.6" y1="436.1" x2="557.4" y2="436.4" stroke="#d4a888"/>
<line x1="535.3" y1="451.5" x2="538.8" y2="451.5" stroke="#98cad6"/>
<line x1="566.0" y1="427.9" x2="567.6" y2="425.7" stroke="#b4dee6"/>
<line x1="550.8" y1="428.7" x2="553.2" y2="427.7" stroke="#d4a888"/>
<line x1="533.8" y1="445.4" x2="534.3" y2="441.5" stroke="#bde0e6"/>
<line x1="561.5" y1="432.6" x2="561.1" y2="430.6" stroke="#bde0e6"/>
<line x1="522.7" y1="448.1" x2="521.0" y2="446.0" stroke="#b4dee6"/>
<line x1="560.1" y1="429.4" x2="561.5" y2="432.0" stroke="#d4a888"/>
<line x1="538.2" y1="465.1" x2="540.8" y2="464.7" stroke="#dcb498"/>
<line x1="539.4" y1="459.4" x2="537.5" y2="460.9" stroke="#c4e4ea"/>
<line x1="559.7" y1="448.6" x2="561.0" y2="445.5" stroke="#e8c8b0"/>
<line x1="537.7" y1="442.7" x2="538.5" y2="444.8" stroke="#98cad6"/>
<line x1="533.5" y1="435.2" x2="530.8" y2="438.1" stroke="#dcb498"/>
<line x1="562.7" y1="422.7" x2="560.1" y2="424.3" stroke="#dcb498"/>
<line x1="535.9" y1="450.2" x2="538.4" y2="451.2" stroke="#98cad6"/>
<line x1="556.6" y1="453.5" x2="553.8" y2="450.4" stroke="#dcb498"/>
<line x1="529.9" y1="455.3" x2="527.4" y2="456.5" stroke="#b4dee6"/>
<line x1="555.3" y1="452.1" x2="555.6" y2="448.1" stroke="#e8c8b0"/>
<line x1="559.0" y1="440.0" x2="562.6" y2="438.2" stroke="#e8c8b0"/>
<line x1="555.4" y1="437.9" x2="557.3" y2="439.4" stroke="#a2d4de"/>
<line x1="565.9" y1="430.8" x2="563.5" y2="427.7" stroke="#e8c8b0"/>
<line x1="565.9" y1="454.1" x2="568.2" y2="454.1" stroke="#b4dee6"/>
<line x1="537.7" y1="429.2" x2="539.6" y2="431.1" stroke="#bde0e6"/>
<line x1="542.8" y1="432.6" x2="545.8" y2="434.0" stroke="#dcb498"/>
<line x1="537.4" y1="447.4" x2="535.8" y2="446.2" stroke="#d4a888"/>
<line x1="556.3" y1="439.7" x2="554.7" y2="443.5" stroke="#dcb498"/>
<line x1="534.9" y1="441.8" x2="535.0" y2="446.2" stroke="#d4a888"/>
<line x1="553.6" y1="443.6" x2="556.4" y2="441.2" stroke="#a2d4de"/>
<line x1="544.1" y1="463.7" x2="546.3" y2="462.5" stroke="#b4dee6"/>
<line x1="537.6" y1="416.0" x2="535.6" y2="418.3" stroke="#b4dee6"/>
<line x1="551.7" y1="414.9" x2="549.2" y2="414.8" stroke="#dcb498"/>
<line x1="546.2" y1="451.2" x2="546.4" y2="448.5" stroke="#e8c8b0"/>
<line x1="562.6" y1="447.5" x2="564.5" y2="446.5" stroke="#b4dee6"/>
<line x1="552.6" y1="438.6" x2="554.7" y2="439.3" stroke="#bde0e6"/>
<line x1="524.0" y1="447.9" x2="523.1" y2="450.0" stroke="#a2d4de"/>
<line x1="556.4" y1="434.0" x2="558.1" y2="438.0" stroke="#e8c8b0"/>
<line x1="565.3" y1="444.7" x2="563.2" y2="446.7" stroke="#98cad6"/>
<line x1="538.7" y1="442.7" x2="540.7" y2="443.8" stroke="#bde0e6"/>
<line x1="551.9" y1="437.7" x2="554.4" y2="437.2" stroke="#98cad6"/>
<line x1="546.4" y1="426.3" x2="547.1" y2="424.3" stroke="#e8c8b0"/>
<line x1="550.8" y1="458.8" x2="548.2" y2="459.8" stroke="#e8c8b0"/>
<line x1="559.1" y1="443.1" x2="560.6" y2="439.5" stroke="#b4dee6"/>
<line x1="533.9" y1="452.6" x2="534.6" y2="450.6" stroke="#dcb498"/>
<line x1="539.1" y1="450.8" x2="542.5" y2="449.9" stroke="#d4a888"/>
<line x1="544.5" y1="415.5" x2="547.0" y2="414.3" stroke="#a2d4de"/>
<line x1="555.1" y1="441.8" x2="550.8" y2="442.5" stroke="#bde0e6"/>
<line x1="548.0" y1="432.2" x2="545.9" y2="432.2" stroke="#d4a888"/>
<line x1="555.6" y1="415.3" x2="553.4" y2="413.5" stroke="#98cad6"/>
<line x1="531.2" y1="429.2" x2="529.3" y2="430.7" stroke="#bde0e6"/>
<line x1="548.4" y1="441.7" x2="545.7" y2="440.8" stroke="#bde0e6"/>
<line x1="544.5" y1="446.7" x2="547.1" y2="448.5" stroke="#e8c8b0"/>
<line x1="548.5" y1="447.6" x2="544.4" y2="448.6" stroke="#dcb498"/>
<line x1="541.4" y1="433.0" x2="542.8" y2="430.7" stroke="#d4a888"/>
<line x1="529.0" y1="458.8" x2="529.8" y2="461.2" stroke="#dcb498"/>
<line x1="546.0" y1="453.0" x2="548.1" y2="451.6" stroke="#a2d4de"/>
<line x1="534.9" y1="439.5" x2="536.1" y2="436.1" stroke="#b4dee6"/>
<line x1="557.7" y1="450.9" x2="559.4" y2="447.2" stroke="#98cad6"/>
<line x1="556.3" y1="443.3" x2="558.1" y2="445.0" stroke="#dcb498"/>
<line x1="557.2" y1="433.4" x2="559.3" y2="431.1" stroke="#d4a888"/>
<line x1="548.2" y1="416.6" x2="551.8" y2="416.8" stroke="#98cad6"/>
<line x1="547.7" y1="455.0" x2="549.3" y2="457.0" stroke="#d4a888"/>
<line x1="567.1" y1="446.2" x2="570.5" y2="444.1" stroke="#98cad6"/>
<line x1="533.6" y1="448.3" x2="532.1" y2="446.8" stroke="#b4dee6"/>
<line x1="550.0" y1="420.6" x2="552.0" y2="421.5" stroke="#bde0e6"/>
<line x1="540.8" y1="432.0" x2="537.3" y2="431.3" stroke="#bde0e6"/>
<line x1="540.2" y1="424.5" x2="539.6" y2="427.2" stroke="#b4dee6"/>
<line x1="538.1" y1="459.1" x2="536.2" y2="461.5" stroke="#98cad6"/>
<line x1="536.4" y1="427.4" x2="532.8" y2="429.9" stroke="#bde0e6"/>
<line x1="557.0" y1="430.3" x2="558.3" y2="427.5" stroke="#98cad6"/>
<line x1="536.9" y1="442.3" x2="540.3" y2="442.6" stroke="#bde0e6"/>
<line x1="561.6" y1="451.8" x2="559.3" y2="454.2" stroke="#c4e4ea"/>
<line x1="540.2" y1="447.8" x2="541.2" y2="449.7" stroke="#bde0e6"/>
<line x1="554.1" y1="437.8" x2="557.1" y2="440.9" stroke="#e8c8b0"/>
<line x1="537.4" y1="460.1" x2="536.0" y2="458.4" stroke="#c4e4ea"/>
<line x1="531.0" y1="424.8" x2="532.1" y2="427.8" stroke="#dcb498"/>
<line x1="552.3" y1="452.6" x2="554.9" y2="456.1" stroke="#dcb498"/>
<line x1="562.4" y1="445.3" x2="562.5" y2="443.2" stroke="#98cad6"/>
<line x1="559.0" y1="454.6" x2="555.6" y2="453.5" stroke="#d4a888"/>
<line x1="537.9" y1="428.9" x2="537.9" y2="431.9" stroke="#98cad6"/>
<line x1="530.8" y1="445.6" x2="534.3" y2="446.2" stroke="#e8c8b0"/>
<line x1="530.1" y1="443.8" x2="527.1" y2="441.0" stroke="#c4e4ea"/>
<line x1="550.3" y1="425.0" x2="552.9" y2="426.2" stroke="#98cad6"/>
<line x1="557.7" y1="449.4" x2="555.6" y2="449.3" stroke="#c4e4ea"/>
<line x1="564.8" y1="452.9" x2="565.4" y2="449.6" stroke="#b4dee6"/>
<line x1="550.1" y1="441.0" x2="547.3" y2="438.5" stroke="#a2d4de"/>
<line x1="552.3" y1="435.2" x2="553.3" y2="431.0" stroke="#a2d4de"/>
<line x1="554.6" y1="421.0" x2="554.5" y2="423.8" stroke="#d4a888"/>
<line x1="557.8" y1="430.1" x2="557.7" y2="434.5" stroke="#e8c8b0"/>
<line x1="547.8" y1="452.1" x2="545.0" y2="452.0" stroke="#b4dee6"/>
<line x1="549.5" y1="455.4" x2="547.7" y2="453.4" stroke="#98cad6"/>
<line x1="551.7" y1="434.1" x2="552.2" y2="431.8" stroke="#b4dee6"/>
<line x1="536.3" y1="428.6" x2="538.7" y2="426.2" stroke="#a2d4de"/>
<line x1="544.8" y1="459.8" x2="547.2" y2="456.8" stroke="#98cad6"/>
<line x1="533.3" y1="432.9" x2="533.6" y2="429.8" stroke="#c4e4ea"/>
<line x1="540.2" y1="458.5" x2="538.5" y2="462.6" stroke="#98cad6"/>
<line x1="542.5" y1="413.6" x2="543.0" y2="416.3" stroke="#bde0e6"/>
<line x1="533.4" y1="447.5" x2="536.5" y2="448.5" stroke="#b4dee6"/>
<line x1="546.0" y1="440.2" x2="544.6" y2="442.0" stroke="#98cad6"/>
<line x1="530.9" y1="436.5" x2="530.1" y2="438.7" stroke="#98cad6"/>
<line x1="533.7" y1="427.2" x2="536.6" y2="430.5" stroke="#dcb498"/>
<line x1="541.0" y1="423.1" x2="543.1" y2="424.0" stroke="#d4a888"/>
<line x1="536.0" y1="447.2" x2="539.7" y2="447.5" stroke="#98cad6"/>
<line x1="529.8" y1="428.2" x2="527.1" y2="426.2" stroke="#e8c8b0"/>
<line x1="561.6" y1="445.4" x2="559.4" y2="446.8" stroke="#b4dee6"/>
<line x1="550.6" y1="436.0" x2="547.8" y2="433.7" stroke="#dcb498"/>
<line x1="550.9" y1="448.3" x2="548.3" y2="446.3" stroke="#bde0e6"/>
<line x1="548.4" y1="430.9" x2="547.4" y2="433.4" stroke="#b4dee6"/>
<line x1="567.5" y1="439.0" x2="564.1" y2="439.5" stroke="#bde0e6"/>
<line x1="557.9" y1="418.1" x2="554.2" y2="418.9" stroke="#e8c8b0"/>
</g>
<path d="M545,410 C544,420 547,430 548,432 L553,430 C552,422 551,414 549,408 Z" fill="#8cc8d4" opacity="0.7"/>
<circle cx="547.8" cy="427" r="2.2" fill="#a05050" opacity="0.8"/>
<text x="555" y="412.5" font-size="10" font-weight="bold" fill="#1a1a1a" textLength="19" lengthAdjust="spacingAndGlyphs">DMF</text>
<ellipse cx="246.6" cy="443.8" rx="5.4" ry="4.6" transform="rotate(11.2 246.6 443.8)" fill="#f6eae8" stroke="#c8b4b4" stroke-width="0.7"/><ellipse cx="243.4" cy="450.5" rx="5.4" ry="4.6" transform="rotate(49.2 243.4 450.5)" fill="#f6eae8" stroke="#c8b4b4" stroke-width="0.7"/><ellipse cx="237.2" cy="453.9" rx="5.4" ry="4.6" transform="rotate(82.8 237.2 453.9)" fill="#f6eae8" stroke="#c8b4b4" stroke-width="0.7"/><ellipse cx="230.5" cy="452.6" rx="5.4" ry="4.6" transform="rotate(115.4 230.5 452.6)" fill="#f6eae8" stroke="#c8b4b4" stroke-width="0.7"/><ellipse cx="225.7" cy="447.0" rx="5.4" ry="4.6" transform="rotate(151.4 225.7 447.0)" fill="#f6eae8" stroke="#c8b4b4" stroke-width="0.7"/><ellipse cx="224.8" cy="439.4" rx="5.4" ry="4.6" transform="rotate(-168.8 224.8 439.4)" fill="#f6eae8" stroke="#c8b4b4" stroke-width="0.7"/><ellipse cx="228.0" cy="432.7" rx="5.4" ry="4.6" transform="rotate(-130.8 228.0 432.7)" fill="#f6eae8" stroke="#c8b4b4" stroke-width="0.7"/><ellipse cx="234.2" cy="429.3" rx="5.4" ry="4.6" transform="rotate(-97.2 234.2 429.3)" fill="#f6eae8" stroke="#c8b4b4" stroke-width="0.7"/><ellipse cx="240.9" cy="430.6" rx="5.4" ry="4.6" transform="rotate(-64.6 240.9 430.6)" fill="#f6eae8" stroke="#c8b4b4" stroke-width="0.7"/><ellipse cx="245.7" cy="436.2" rx="5.4" ry="4.6" transform="rotate(-28.6 245.7 436.2)" fill="#f6eae8" stroke="#c8b4b4" stroke-width="0.7"/>
<ellipse cx="235" cy="441.6" rx="8.5" ry="10" fill="#ecdcda"/>
<ellipse cx="402.6" cy="438.6" rx="9.5" ry="6.2" transform="rotate(21.3 402.6 438.6)" fill="#d2b48e"/><ellipse cx="396.3" cy="449.1" rx="9.5" ry="6.2" transform="rotate(58.8 396.3 449.1)" fill="#d2b48e"/><ellipse cx="386.0" cy="453.1" rx="9.5" ry="6.2" transform="rotate(90.0 386.0 453.1)" fill="#d2b48e"/><ellipse cx="375.7" cy="449.1" rx="9.5" ry="6.2" transform="rotate(121.2 375.7 449.1)" fill="#d2b48e"/><ellipse cx="369.4" cy="438.6" rx="9.5" ry="6.2" transform="rotate(158.7 369.4 438.6)" fill="#d2b48e"/><ellipse cx="369.4" cy="425.6" rx="9.5" ry="6.2" transform="rotate(-158.7 369.4 425.6)" fill="#d2b48e"/><ellipse cx="375.7" cy="415.1" rx="9.5" ry="6.2" transform="rotate(-121.2 375.7 415.1)" fill="#d2b48e"/><ellipse cx="386.0" cy="411.1" rx="9.5" ry="6.2" transform="rotate(-90.0 386.0 411.1)" fill="#d2b48e"/><ellipse cx="396.3" cy="415.1" rx="9.5" ry="6.2" transform="rotate(-58.8 396.3 415.1)" fill="#d2b48e"/><ellipse cx="402.6" cy="425.6" rx="9.5" ry="6.2" transform="rotate(-21.3 402.6 425.6)" fill="#d2b48e"/>
<ellipse cx="403.1" cy="438.8" rx="6.0" ry="3.4" transform="rotate(21.3 403.1 438.8)" fill="#e4d0b0"/><ellipse cx="396.6" cy="449.6" rx="6.0" ry="3.4" transform="rotate(58.8 396.6 449.6)" fill="#e4d0b0"/><ellipse cx="386.0" cy="453.7" rx="6.0" ry="3.4" transform="rotate(90.0 386.0 453.7)" fill="#e4d0b0"/><ellipse cx="375.4" cy="449.6" rx="6.0" ry="3.4" transform="rotate(121.2 375.4 449.6)" fill="#e4d0b0"/><ellipse cx="368.9" cy="438.8" rx="6.0" ry="3.4" transform="rotate(158.7 368.9 438.8)" fill="#e4d0b0"/><ellipse cx="368.9" cy="425.4" rx="6.0" ry="3.4" transform="rotate(-158.7 368.9 425.4)" fill="#e4d0b0"/><ellipse cx="375.4" cy="414.6" rx="6.0" ry="3.4" transform="rotate(-121.2 375.4 414.6)" fill="#e4d0b0"/><ellipse cx="386.0" cy="410.5" rx="6.0" ry="3.4" transform="rotate(-90.0 386.0 410.5)" fill="#e4d0b0"/><ellipse cx="396.6" cy="414.6" rx="6.0" ry="3.4" transform="rotate(-58.8 396.6 414.6)" fill="#e4d0b0"/><ellipse cx="403.1" cy="425.4" rx="6.0" ry="3.4" transform="rotate(-21.3 403.1 425.4)" fill="#e4d0b0"/>
<ellipse cx="386" cy="432.1" rx="11" ry="13" fill="#c8aa80"/>
<g fill="none" stroke="#3cb0e0" stroke-width="2.7">
<ellipse cx="225.6" cy="106" rx="8" ry="11.6"/>
</g>
<ellipse cx="234" cy="441.6" rx="5.6" ry="7.5" fill="#e8d8d8" stroke="#3aa8d8" stroke-width="2.6"/>
<ellipse cx="386" cy="432.1" rx="7.2" ry="9.2" fill="#e2d2b2" stroke="#3cb4d6" stroke-width="4.6"/>
<g fill="none" stroke="#2898b8" stroke-width="2">
<ellipse cx="376" cy="102.7" rx="7.5" ry="10.2"/>
<path d="M379.5,91.8 L385,87.7 M380.9,111.6 L387,115.7"/>
</g>
<g stroke="#389acf" stroke-width="2.6" stroke-dasharray="9,6.5" fill="none">
<path d="M173,63.3 L221,94.2"/>
<path d="M168.6,134.6 L220,115"/>
<path d="M385,87.7 L430,58"/>
<path d="M388,117 L432,139"/>
<path d="M176,391.9 L229,434.5"/>
<path d="M179.6,484 L229,449.5"/>
<path d="M394,420 L439,391.7"/>
<path d="M394,446 L439,471.6"/>
</g>
<g stroke="#dcdcdc" stroke-width="1.4" fill="none">
<polygon points="313.7,267.2 304.3,261.8 304.3,251.0 313.7,245.6 323.1,251.0 323.1,261.8"/>
<path d="M313.7,263.4L307.6,259.9M307.6,252.9L313.7,249.4M319.8,252.9L319.8,259.9"/>
<polygon points="305.9,301.6 296.5,307.0 287.1,301.6 287.1,290.8 296.5,285.4 305.9,290.8"/>
<path d="M302.6,299.7L296.5,303.2M290.4,299.7L290.4,292.7M296.5,289.2L302.6,292.7"/>
<polygon points="321.6,301.6 321.6,290.8 331.0,285.4 340.4,290.8 340.4,301.6 331.0,307.0"/>
<path d="M324.9,299.7L324.9,292.7M331.0,289.2L337.1,292.7M337.1,299.7L331.0,303.2"/>
<path d="M313.7,284.2 V267.2 M313.7,284.2 L304.3,289.6 M313.7,284.2 L323.1,289.6"/>
<path d="M313.7,245.6 V236 M313.7,229 V224 M313.7,217 V212 M313.7,205 V196"/>
<path d="M287.1,301.6 L283,304 M277,309 L274,311 M268,316 L265,318 M261,322 L255.3,325.4"/>
<path d="M340.4,301.6 L344.5,304 M350.5,309 L353.5,311 M359.5,316 L362.5,318 M366.5,322 L371,325.4"/>
</g>
<g fill="#dcdcdc" font-size="7" text-anchor="middle">
<text x="313.7" y="235">O</text>
<text x="313.7" y="223">S</text>
<text x="306" y="223">O</text>
<text x="321.5" y="223">O</text>
<text x="313.7" y="210">O</text>
<text x="280.5" y="310">O</text>
<text x="271.2" y="315.5">S</text>
<text x="267" y="307">O</text>
<text x="275" y="324">O</text>
<text x="263.3" y="322.5">O</text>
<text x="346" y="310">O</text>
<text x="356.2" y="315.5">S</text>
<text x="360" y="307">O</text>
<text x="352" y="324">O</text>
<text x="364.2" y="322.5">O</text>
</g>
<path fill="#48a6e6" d="M224.5,60.3 L231.6,60 C236,40 255,25 310,23.3 C336,23 362,35 376,52 C380,58 382,64 383,70.2 L373.6,70.2 C370,60 362,46 350,37 C338,28 322,25.2 310,25.2 C270,27 248,42 240.2,60 L244,60.3 L231.8,71.5 Z"/>
<path fill="#48a6e6" d="M228,140 C229.0,143.2 231.1,153.9 233.8,159.3 C236.5,164.7 238.8,168.1 244.3,172.2 C249.8,176.3 259.4,181.3 267.0,184.0 C274.6,186.7 282.8,187.5 290.0,188.5 C297.2,189.5 302.6,190.4 310.0,190.2 C317.4,190.0 326.2,189.2 334.3,187.5 C342.4,185.8 351.8,183.1 358.5,180.0 C365.2,176.9 370.9,173.1 374.7,168.8 C378.5,164.5 380.1,156.7 381.2,154.3 L386.9,154.3 L379.6,141.7 L369,155 L372.3,155 C371.1,157.0 368.6,163.5 365.0,167.2 C361.4,170.9 357.0,173.9 350.5,177.0 C344.0,180.1 332.9,183.7 326.2,185.5 C319.4,187.3 316.0,187.5 310.0,187.6 C304.0,187.7 297.2,187.2 290.0,186.0 C282.8,184.8 273.3,182.7 267.0,180.5 C260.7,178.3 256.2,176.5 252.0,173.0 C247.8,169.5 244.3,164.8 241.8,159.3 C239.3,153.8 237.8,143.2 237.0,140.0 Z"/>
<path fill="#48a6e6" d="M243.8,387.7 C245.3,385.1 248.8,377.0 252.7,372.4 C256.6,367.8 261.5,363.4 267.2,360.2 C272.9,357.0 280.7,354.8 286.6,353.0 C292.5,351.2 297.2,350.4 302.8,349.7 C308.4,349.0 314.4,348.6 320.0,348.9 C325.6,349.2 330.0,349.8 336.2,351.3 C342.4,352.8 350.5,354.8 357.2,357.8 C363.9,360.8 371.5,365.3 376.6,369.1 C381.7,372.9 384.9,375.6 388.0,380.5 C391.1,385.4 394.0,395.3 395.2,398.3 L386.3,398.3 C385.5,395.9 384.2,388.3 381.5,383.7 C378.8,379.1 374.8,374.6 370.2,370.7 C365.6,366.8 359.7,363.0 354.0,360.2 C348.3,357.4 341.9,355.4 336.2,353.8 C330.5,352.2 324.2,350.8 320.0,350.5 C315.8,350.2 315.1,351.3 310.9,352.1 C306.7,352.9 300.6,353.6 294.7,355.4 C288.8,357.2 281.0,359.7 275.3,362.7 C269.6,365.7 264.6,369.0 260.7,373.2 C256.8,377.4 253.3,385.3 251.8,387.7 L255.1,387.7 L243.8,399 L237.3,387.7 Z"/>
<path fill="#48a6e6" d="M239.7,475.5 C240.2,477.5 240.8,483.5 243.0,487.7 C245.2,491.9 248.1,496.6 252.7,500.6 C257.3,504.6 263.5,508.7 270.5,511.9 C277.5,515.1 286.8,518.2 294.7,520.0 C302.6,521.8 310.8,522.4 318.0,522.6 C325.2,522.8 331.7,522.1 338.0,521.0 C344.3,519.9 349.7,518.2 355.6,516.0 C361.5,513.8 368.5,510.7 373.4,507.9 C378.2,505.1 381.6,502.4 384.7,499.0 C387.8,495.6 390.8,489.6 392.0,487.7 L398.5,486.8 L391.2,475 L380.7,486.8 L383.9,487.7 C383.0,489.3 381.1,494.4 378.3,497.4 C375.5,500.4 371.8,502.9 366.9,505.5 C362.0,508.1 355.2,510.7 349.1,512.7 C343.0,514.7 336.2,516.6 330.0,517.6 C323.8,518.6 317.3,519.0 312.0,519.0 C306.7,519.0 304.1,519.4 298.0,517.6 C291.9,515.9 281.5,511.6 275.3,508.5 C269.1,505.4 264.6,502.6 260.7,499.0 C256.8,495.4 253.7,490.7 251.8,486.8 C249.9,482.9 249.8,477.4 249.4,475.5 Z"/>
<text class="t" x="274" y="51" font-size="24" textLength="64" lengthAdjust="spacingAndGlyphs">Recycle</text>
<text class="t" x="44.4" y="178" font-size="24" textLength="101" lengthAdjust="spacingAndGlyphs">Swollen gel</text>
<text class="t" x="45" y="208.6" font-size="24" textLength="116" lengthAdjust="spacingAndGlyphs">with pyridine</text>
<text class="t" x="465.4" y="180.4" font-size="24" textLength="94" lengthAdjust="spacingAndGlyphs">Shrunk gel</text>
<text class="t" x="456.4" y="212.4" font-size="24" textLength="115" lengthAdjust="spacingAndGlyphs">&amp; pyridinium</text>
<text class="t" x="231" y="347.5" font-size="24" textLength="176.5" lengthAdjust="spacingAndGlyphs">Polysulfate network</text>
<text class="t" x="263.5" y="387.6" font-size="24" textLength="118" lengthAdjust="spacingAndGlyphs">DMF removal</text>
<text class="t" x="253" y="506.8" font-size="24" textLength="143.5" lengthAdjust="spacingAndGlyphs">DMF adsorption</text>
<text class="t" x="32.9" y="505.3" font-size="24" textLength="145" lengthAdjust="spacingAndGlyphs">Porous structure</text>
<text class="t" x="466.5" y="496.3" font-size="24" textLength="75.5" lengthAdjust="spacingAndGlyphs">Swelling</text>
<text class="t" x="453.2" y="526.5" font-size="24" textLength="121" lengthAdjust="spacingAndGlyphs">&amp; mechanism</text>
<text class="t" x="251" y="176.3" font-size="24" textLength="25" lengthAdjust="spacingAndGlyphs">CH</text>
<text class="t" x="276" y="182.5" font-size="15" textLength="7" lengthAdjust="spacingAndGlyphs">3</text>
<text class="t" x="284" y="176.3" font-size="24" textLength="75.5" lengthAdjust="spacingAndGlyphs">I capture</text>
</svg>
</body></html>
